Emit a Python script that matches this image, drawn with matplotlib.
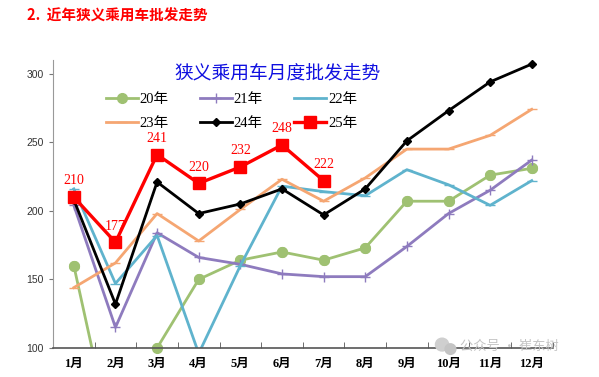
import numpy as np
import matplotlib
matplotlib.use('Agg')
import matplotlib.pyplot as plt
from matplotlib.patches import Ellipse

plt.rcParams['font.family'] = ['Liberation Serif', 'Noto Sans CJK SC']

months = ['1月', '2月', '3月', '4月', '5月', '6月', '7月', '8月', '9月', '10月', '11月', '12月']
s20 = [160, 22, 100, 150, 164, 170, 164, 173, 207, 207, 226, 231]
s21 = [204, 115, 184, 166, 161, 154, 152, 152, 174, 198, 215, 237]
s22 = [216, 147, 182, 96, 160, 218, 214, 211, 230, 219, 204, 222]
s23 = [144, 162, 198, 178, 201, 223, 207, 224, 245, 245, 255, 274]
s24 = [208, 132, 221, 198, 205, 216, 197, 216, 251, 273, 294, 307]
s25 = [210, 177, 241, 220, 232, 248, 222]

x = np.arange(1, 13)
fig = plt.figure(figsize=(5.99, 3.77), dpi=100)
ax = fig.add_axes([0.0885, 0.077, 0.834, 0.764])

green, purple, blue, orange = '#9FC172', '#8E7BBE', '#5FB3CD', '#F5A672'

l20, = ax.plot(x, s20, color=green, lw=2, marker='o', ms=7, label='20年')
# markers sitting on the axis floor shown whole
m20 = np.where(np.array(s20) >= 100, s20, np.nan)
ax.plot(x, m20, ls='none', marker='o', ms=7, color=green, clip_on=False)
l21, = ax.plot(x, s21, color=purple, lw=2, marker='+', ms=7, mew=1, label='21年')
l22, = ax.plot(x, s22, color=blue, lw=2, marker='_', ms=7, label='22年')
l23, = ax.plot(x, s23, color=orange, lw=2, marker='_', ms=7, label='23年')
l24, = ax.plot(x, s24, color='black', lw=2, marker='D', ms=4.5, label='24年')
l25, = ax.plot(x[:len(s25)], s25, color='#FF0000', lw=2.4, marker='s', ms=8, label='25年')

for xi, v in zip(x, s25):
    ax.text(xi, v + 7, str(v), color='#FF0000', fontsize=10, ha='center', va='bottom')

ax.set_xlim(0.5, 12.5)
ax.set_ylim(100, 310)
ax.set_yticks([100, 150, 200, 250, 300])
ax.set_xticks(x)
ax.set_xticklabels(months, fontsize=9, fontweight='bold')
ax.set_xticks(np.arange(0.5, 13, 1), minor=True)
ax.tick_params(axis='x', which='major', length=0, pad=7)
ax.tick_params(axis='x', which='minor', length=4, direction='in', color='#555555')
ax.tick_params(axis='y', length=3, color='#777777', labelsize=7.5, labelcolor='#333333')
for lab in ax.get_yticklabels():
    lab.set_family(['Liberation Sans', 'DejaVu Sans'])
for s in ['top', 'right']:
    ax.spines[s].set_visible(False)
ax.spines['left'].set_color('#999999')
ax.spines['bottom'].set_color('#555555')
ax.spines['bottom'].set_linewidth(1.2)

# legend reads row by row: 20/21/22 then 23/24/25
ax.legend(handles=[l20, l23, l21, l24, l22, l25], ncol=3, frameon=False,
          loc='upper left', bbox_to_anchor=(0.08, 0.93), fontsize=10.5,
          handlelength=2.2, handletextpad=0.1, columnspacing=2.15, labelspacing=0.7)

fig.text(0.463, 0.805, '狭义乘用车月度批发走势', color='#1010E0', fontsize=13.5,
         ha='center', va='center', family=['Noto Sans CJK SC'])
fig.text(0.045, 0.958, '2.  近年狭义乘用车批发走势', color='#FF0000', fontsize=10.5,
         fontweight='bold', ha='left', va='center', family=['Noto Sans CJK SC'])

# watermark
fig.text(0.768, 0.082, '公众号 · 崔东树', color='#C4C4C4', fontsize=9.5,
         ha='left', va='center', family=['Noto Sans CJK SC'])
fig.patches.append(Ellipse((0.738, 0.086), 0.022, 0.034, transform=fig.transFigure,
                           color='#CFCFCF'))
fig.patches.append(Ellipse((0.752, 0.074), 0.018, 0.028, transform=fig.transFigure,
                           color='#C4C4C4'))

fig.savefig('out.png', dpi=100)
